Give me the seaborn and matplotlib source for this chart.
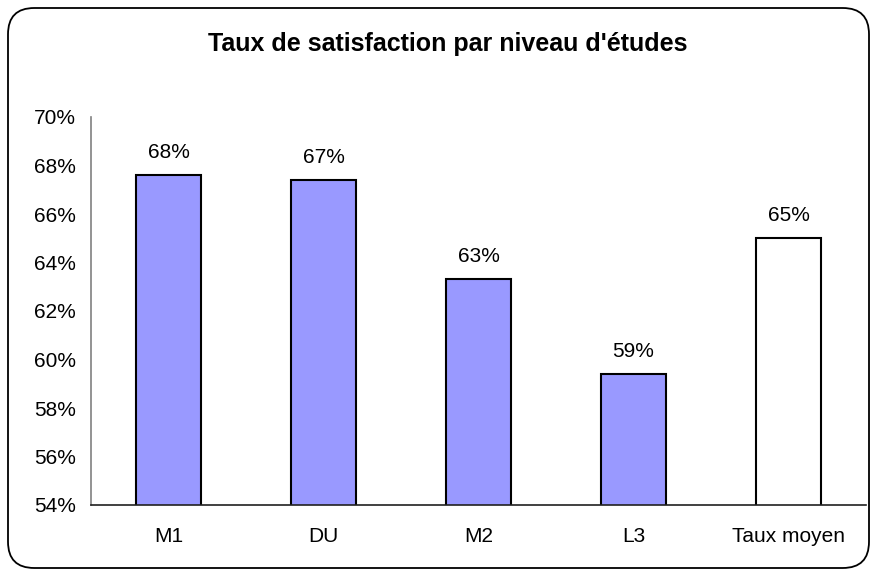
import matplotlib
matplotlib.use("Agg")
import matplotlib.pyplot as plt
from matplotlib.patches import FancyBboxPatch
from matplotlib.ticker import FixedLocator
import seaborn as sns

# Data
categories = ["M1", "DU", "M2", "L3", "Taux moyen"]
values = [67.6, 67.4, 63.3, 59.4, 65.0]
labels = ["68%", "67%", "63%", "59%", "65%"]
bar_colors = ["#9999FF", "#9999FF", "#9999FF", "#9999FF", "#FFFFFF"]
yticks = [54, 56, 58, 60, 62, 64, 66, 68, 70]

sns.set_style("white")
plt.rcParams["font.family"] = ["Liberation Sans", "DejaVu Sans"]
plt.rcParams["text.color"] = "black"
plt.rcParams["xtick.color"] = "black"
plt.rcParams["ytick.color"] = "black"

fig = plt.figure(figsize=(8.75, 5.76), dpi=100)
ax = fig.add_axes([91 / 875, 1 - 505 / 576, 775 / 875, 388 / 576])

sns.barplot(x=categories, y=values, hue=categories, palette=bar_colors,
            legend=False, edgecolor="black", linewidth=1.5, width=0.42,
            saturation=1, ax=ax)

ax.set_ylim(54, 70)
ax.set_xlim(-0.5, len(categories) - 0.5)
ax.set_yticks(yticks)
ax.set_yticklabels([f"{t}%" for t in yticks], fontsize=15)
ax.tick_params(axis="y", length=5, color="#808080", labelcolor="black", width=1, pad=6)
ax.set_xticks(range(len(categories)))
ax.set_xticklabels(categories, fontsize=15)
ax.tick_params(axis="x", which="major", length=0, pad=16, labelcolor="black")
ax.xaxis.set_minor_locator(FixedLocator([i - 0.5 for i in range(len(categories) + 1)]))
ax.tick_params(axis="x", which="minor", length=5, color="#808080", width=1)
ax.set_xlabel("")
ax.set_ylabel("")

for s in ["top", "right"]:
    ax.spines[s].set_visible(False)
ax.spines["left"].set_color("#808080")
ax.spines["bottom"].set_color("#202020")
ax.spines["left"].set_linewidth(1.2)
ax.spines["bottom"].set_linewidth(1.2)

for i, (v, lab) in enumerate(zip(values, labels)):
    ax.text(i, v + 0.95, lab, ha="center", va="center", fontsize=15, color="black")

fig.text(0.512, 1 - 44 / 576, "Taux de satisfaction par niveau d'études",
         ha="center", va="center", fontsize=18, fontweight="bold", color="black")

# Rounded chart border
border = FancyBboxPatch((8 / 875, 8 / 576), 861 / 875, 560 / 576,
                        boxstyle="round,pad=0,rounding_size=0.03",
                        transform=fig.transFigure, fill=False,
                        edgecolor="black", linewidth=1.3, mutation_aspect=875 / 576)
fig.patches.append(border)

fig.savefig("out.png", dpi=100)
